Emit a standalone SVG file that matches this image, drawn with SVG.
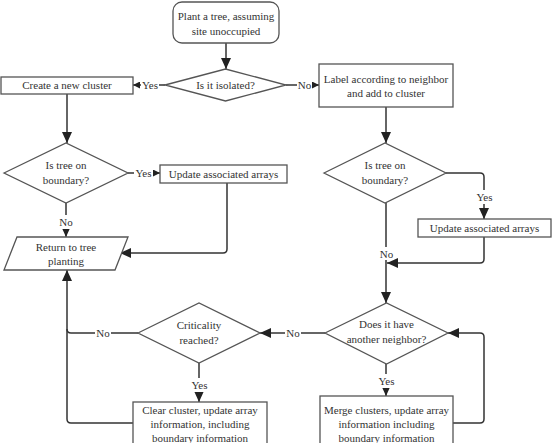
<svg xmlns="http://www.w3.org/2000/svg" width="552" height="443" viewBox="0 0 552 443">
<defs>
<marker id="big" markerUnits="userSpaceOnUse" markerWidth="11" markerHeight="10" refX="11" refY="5" orient="auto"><path d="M0,0 L11,5 L0,10 z" fill="#222"/></marker>
<marker id="small" markerUnits="userSpaceOnUse" markerWidth="7" markerHeight="7" refX="7" refY="3.5" orient="auto"><path d="M0,0 L7,3.5 L0,7 z" fill="#222"/></marker>
</defs>
<style>
.n{fill:#fff;stroke:#555;stroke-width:1.3}
text{font-family:'Liberation Serif','DejaVu Serif',serif;font-size:11px;fill:#333;text-anchor:middle}
.c{fill:none;stroke:#333;stroke-width:1.5}
.bg{fill:#fff}
</style>
<g id="connectors">
<path class="c" d="M226,43 V69" marker-end="url(#big)"/>
<path class="c" d="M165,85 H133" marker-end="url(#small)"/>
<path class="c" d="M286,85 H319" marker-end="url(#small)"/>
<path class="c" d="M67,94 V143" marker-end="url(#big)"/>
<path class="c" d="M128,173 H160" marker-end="url(#small)"/>
<path class="c" d="M66,203 V237" marker-end="url(#big)"/>
<path class="c" d="M227,183 V249 Q227,253 223,253 H120" marker-end="url(#big)"/>
<path class="c" d="M133,423 H71 Q67,423 67,419 V270" marker-end="url(#big)"/>
<path class="c" d="M138,333 H71 Q67,333 67,329"/>
<path class="c" d="M199,363 V402" marker-end="url(#big)"/>
<path class="c" d="M386,107 V143" marker-end="url(#big)"/>
<path class="c" d="M446,173 H480 Q484,173 484,177 V219" marker-end="url(#big)"/>
<path class="c" d="M484,237 V259 Q484,263 480,263 H387" marker-end="url(#big)"/>
<path class="c" d="M386,203 V303" marker-end="url(#big)"/>
<path class="c" d="M325,333 H260" marker-end="url(#big)"/>
<path class="c" d="M386,364 V396" marker-end="url(#big)"/>
<path class="c" d="M453,423 H480 Q484,423 484,419 V337 Q484,333 480,333 H448" marker-end="url(#big)"/>
<rect class="bg" x="141" y="78" width="18" height="14"/>
<text x="150" y="89">Yes</text>
<rect class="bg" x="297" y="78" width="15" height="14"/>
<text x="304.5" y="89">No</text>
<rect class="bg" x="134" y="166" width="19" height="14"/>
<text x="143.5" y="177">Yes</text>
<rect class="bg" x="58" y="215" width="16" height="14"/>
<text x="66" y="226">No</text>
<rect class="bg" x="95" y="326" width="16" height="14"/>
<text x="103" y="337">No</text>
<rect class="bg" x="190" y="378" width="19" height="14"/>
<text x="199.5" y="389">Yes</text>
<rect class="bg" x="475" y="190" width="19" height="14"/>
<text x="484.5" y="201">Yes</text>
<rect class="bg" x="378" y="247" width="16" height="13"/>
<text x="386.5" y="258">No</text>
<rect class="bg" x="285" y="326" width="16" height="14"/>
<text x="293" y="337">No</text>
<rect class="bg" x="377" y="374" width="19" height="14"/>
<text x="386.5" y="385">Yes</text>
</g>
<g id="start">
<rect class="n" x="173" y="2" width="106" height="41" rx="9"/>
<text x="226" y="20">Plant a tree, assuming</text>
<text x="226" y="35">site unoccupied</text>
</g>
<g id="isolated">
<polygon class="n" points="165,85 225.5,69 286,85 225.5,101"/>
<text x="225.5" y="89">Is it isolated?</text>
</g>
<g id="create">
<rect class="n" x="1" y="77" width="132" height="17"/>
<text x="67" y="89">Create a new cluster</text>
</g>
<g id="label">
<rect class="n" x="319" y="64" width="134" height="43"/>
<text x="386" y="83">Label according to neighbor</text>
<text x="386" y="97">and add to cluster</text>
</g>
<g id="boundaryL">
<polygon class="n" points="4,173 66,143 128,173 66,203"/>
<text x="66" y="169">Is tree on</text>
<text x="66" y="184">boundary?</text>
</g>
<g id="updateL">
<rect class="n" x="160" y="165" width="127" height="18"/>
<text x="223.5" y="178">Update associated arrays</text>
</g>
<g id="return">
<polygon class="n" points="17,237 128,237 115,270 4,270"/>
<text x="66" y="251">Return to tree</text>
<text x="66" y="265">planting</text>
</g>
<g id="boundaryR">
<polygon class="n" points="324,173 385,143 446,173 385,203"/>
<text x="385" y="169">Is tree on</text>
<text x="385" y="184">boundary?</text>
</g>
<g id="updateR">
<rect class="n" x="418" y="219" width="133" height="18"/>
<text x="484.5" y="232">Update associated arrays</text>
</g>
<g id="neighbor">
<polygon class="n" points="325,333 386.5,303 448,333 386.5,364"/>
<text x="386.5" y="328">Does it have</text>
<text x="386.5" y="343">another neighbor?</text>
</g>
<g id="criticality">
<polygon class="n" points="138,333 199,303 260,333 199,363"/>
<text x="199" y="329">Criticality</text>
<text x="199" y="344">reached?</text>
</g>
<g id="clear">
<rect class="n" x="133" y="402" width="134" height="44"/>
<text x="200" y="414">Clear cluster, update array</text>
<text x="200" y="428">information, including</text>
<text x="200" y="442">boundary information</text>
</g>
<g id="merge">
<rect class="n" x="320" y="396" width="133" height="50"/>
<text x="386.5" y="414">Merge clusters, update array</text>
<text x="386.5" y="428">information including</text>
<text x="386.5" y="442">boundary information</text>
</g>
</svg>
